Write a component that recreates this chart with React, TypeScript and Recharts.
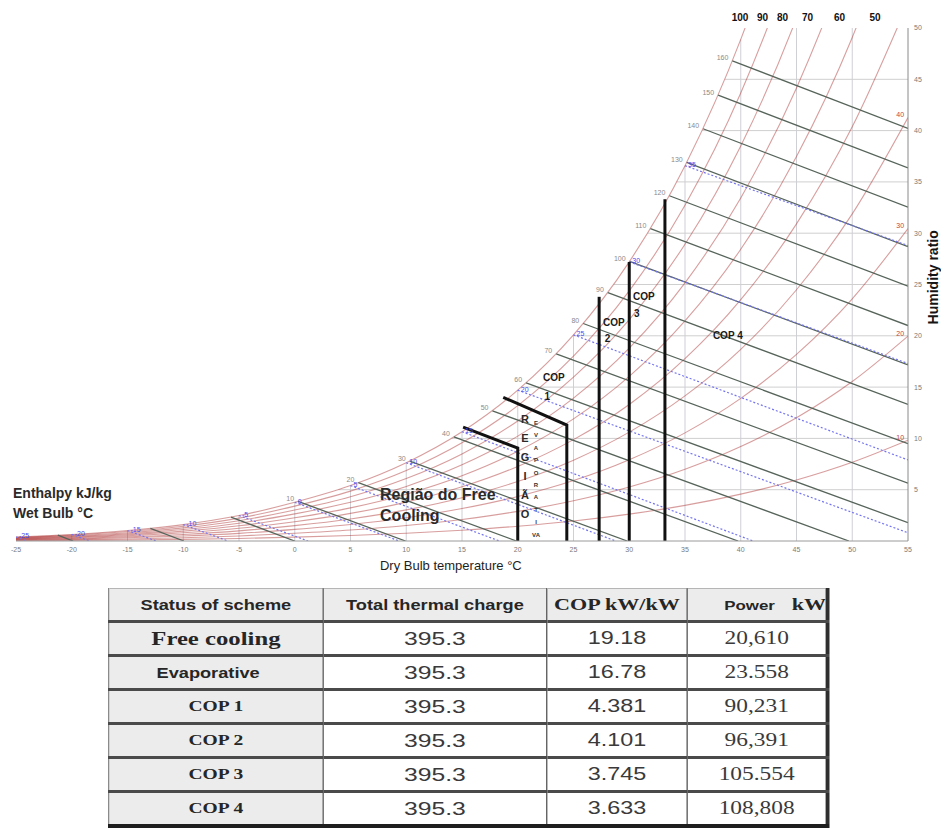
import React from 'react';
import { ComposedChart, Line, Scatter, XAxis, YAxis } from 'recharts';

// dry bulb temperature (°C) and humidity ratio (g/kg) ticks
const dryBulbTicks = [-25, -20, -15, -10, -5, 0, 5, 10, 15, 20, 25, 30, 35, 40, 45, 50, 55];
const humidityTicks = [5, 10, 15, 20, 25, 30, 35, 40, 45, 50];

// humidity ratio along each relative humidity curve, one value per dryBulbTicks entry
const rh10 = [0.04, 0.06, 0.1, 0.16, 0.25, 0.38, 0.54, 0.75, 1.05, 1.44, 1.95, 2.62, 3.47, 4.57, 5.95, 7.68, 9.83];
const rh20 = [0.08, 0.13, 0.2, 0.32, 0.49, 0.75, 1.07, 1.51, 2.1, 2.89, 3.92, 5.26, 6.99, 9.2, 12.01, 15.54, 19.97];
const rh30 = [0.12, 0.19, 0.31, 0.48, 0.74, 1.13, 1.61, 2.27, 3.16, 4.34, 5.89, 7.92, 10.54, 13.9, 18.19, 23.61, 30.45];
const rh40 = [0.16, 0.25, 0.41, 0.64, 0.99, 1.5, 2.15, 3.03, 4.22, 5.8, 7.88, 10.61, 14.14, 18.68, 24.49, 31.88, 41.27];
const rh50 = [0.19, 0.32, 0.51, 0.8, 1.24, 1.88, 2.69, 3.79, 5.28, 7.26, 9.88, 13.31, 17.77, 23.52, 30.91, 40.37, 52.45];
const rh60 = [0.23, 0.38, 0.61, 0.96, 1.48, 2.26, 3.23, 4.56, 6.35, 8.74, 11.9, 16.04, 21.45, 28.44, 37.47, 49.08, 64.03];
const rh70 = [0.27, 0.44, 0.71, 1.12, 1.73, 2.64, 3.77, 5.32, 7.42, 10.22, 13.93, 18.8, 25.16, 33.44, 44.16, 58.03, 76.0];
const rh80 = [0.31, 0.51, 0.81, 1.28, 1.98, 3.02, 4.32, 6.09, 8.49, 11.7, 15.97, 21.58, 28.93, 38.51, 50.98, 67.21, 88.4];
const rh90 = [0.35, 0.57, 0.92, 1.44, 2.23, 3.4, 4.86, 6.86, 9.57, 13.2, 18.02, 24.38, 32.73, 43.66, 57.95, 76.65, 101.25];
const rh100 = [0.39, 0.64, 1.02, 1.6, 2.48, 3.77, 5.4, 7.63, 10.65, 14.7, 20.09, 27.21, 36.58, 48.89, 65.06, 86.34, 114.6];
const rhCurves = [rh10, rh20, rh30, rh40, rh50, rh60, rh70, rh80, rh90, rh100];

// dry bulb where each horizontal grid line meets the saturation curve
const humiditySatTemp = [3.93, 14.06, 20.32, 24.93, 28.6, 31.65, 34.25, 36.54, 38.57];

// enthalpy lines kJ/kg: start on saturation, end on bottom or right edge
const enthalpyLevels = [-20, -10, 0, 10, 20, 30, 40, 50, 60, 70, 80, 90, 100, 110, 120, 130, 140, 150, 160];
const enthalpySatT = [-21.25, -12.95, -5.72, 0.3, 5.7, 10.31, 14.27, 17.73, 20.75, 23.45, 25.87, 28.08, 30.03, 31.9, 33.6, 35.15, 36.62, 37.97, 39.25];
const enthalpySatW = [0.57, 1.23, 2.33, 3.86, 5.68, 7.79, 10.14, 12.69, 15.41, 18.23, 21.2, 24.2, 27.25, 30.45, 33.65, 36.9, 40.18, 43.45, 46.8];
const enthalpyEndT = [-19.88, -9.94, 0, 9.94, 19.88, 29.82, 39.76, 49.7, 55, 55, 55, 55, 55, 55, 55, 55, 55, 55, 55];
const enthalpyEndW = [0, 0, 0, 0, 0, 0, 0, 0, 1.79, 5.63, 9.48, 13.32, 17.16, 21.0, 24.84, 28.68, 32.53, 36.37, 40.21];

// wet bulb lines °C
const wetBulbLevels = [-25, -20, -15, -10, -5, 0, 5, 10, 15, 20, 25, 30, 35];
const wetBulbSatW = [0.39, 0.64, 1.02, 1.6, 2.48, 3.77, 5.4, 7.63, 10.65, 14.7, 20.09, 27.21, 36.58];
const wetBulbEndT = [-24.0, -18.38, -12.43, -5.99, 1.19, 9.37, 18.36, 28.79, 41.11, 55, 55, 55, 55];
const wetBulbEndW = [0, 0, 0, 0, 0, 0, 0, 0, 0, 0.8, 7.9, 17.3, 28.8];

// operating region boundaries
const freeCoolingT = [15.1, 20, 20];
const freeCoolingW = [11.1, 9.06, 0];
const evaporativeT = [18.7, 24.4, 24.4];
const evaporativeW = [14.0, 11.3, 0];
const copLineT = [27.3, 30, 33.2];
const copLineTopW = [23.8, 27.2, 33.3];

// relative humidity labels (top edge and right edge)
const rhTopLabels = ['100', '90', '80', '70', '60', '50'];
const rhTopT = [39.93, 41.95, 43.74, 45.99, 48.86, 52.04];
const rhSideLabels = ['40', '30', '20', '10'];
const rhSideW = [41.27, 30.45, 19.97, 9.83];

// table
const tableHeaders = ['Status of scheme', 'Total thermal charge', 'COP kW/kW', 'Power', 'kW'];
const schemes = ['Free cooling', 'Evaporative', 'COP 1', 'COP 2', 'COP 3', 'COP 4'];
const thermalCharge = ['395.3', '395.3', '395.3', '395.3', '395.3', '395.3'];
const copValues = ['19.18', '16.78', '4.381', '4.101', '3.745', '3.633'];
const powerValues = ['20,610', '23.558', '90,231', '96,391', '105.554', '108,808'];

const sans = '"Liberation Sans", Arial, sans-serif';
const serif = '"Liberation Serif", "Times New Roman", serif';

const pts = (ts: number[], ws: number[]) => ts.map((t, i) => ({ t, w: ws[i] }));

const rhLines = rhCurves.map((ws) => pts(dryBulbTicks, ws));
const verticalGrid = dryBulbTicks.slice(1, -1).map((t, i) => pts([t, t], [0, rh100[i + 1]]));
const horizontalGrid = humiditySatTemp.map((t, i) => pts([t, 55], [humidityTicks[i], humidityTicks[i]]));
const enthalpyLines = enthalpyLevels.map((_, i) =>
  pts([enthalpySatT[i], enthalpyEndT[i]], [enthalpySatW[i], enthalpyEndW[i]]),
);
const wetBulbLines = wetBulbLevels.map((tw, i) => pts([tw, wetBulbEndT[i]], [wetBulbSatW[i], wetBulbEndW[i]]));
const boundaryLines = [
  pts(freeCoolingT, freeCoolingW),
  pts(evaporativeT, evaporativeW),
  ...copLineT.map((t, i) => pts([t, t], [0, copLineTopW[i]])),
];

const enthalpyNotes = enthalpyLevels
  .map((h, i) => ({ t: enthalpySatT[i], w: enthalpySatW[i], text: String(h) }))
  .filter((_, i) => enthalpyLevels[i] > 0);
const wetBulbNotes = wetBulbLevels.map((tw, i) => ({ t: tw, w: wetBulbSatW[i], text: String(tw) }));
const topNotes = rhTopLabels.map((text, i) => ({ t: rhTopT[i], w: 50, text }));
const sideNotes = rhSideLabels.map((text, i) => ({ t: 54.3, w: rhSideW[i], text }));

const bigNotes = [
  { t: -25, w: 4.68, text: 'Enthalpy kJ/kg' },
  { t: -25, w: 2.73, text: 'Wet Bulb °C' },
];
const regionNotes = [
  { t: 7.65, w: 4.58, text: 'Região do Free' },
  { t: 7.65, w: 2.44, text: 'Cooling' },
];
const copNotes = [
  { t: 22.26, w: 15.9, text: 'COP' },
  { t: 22.4, w: 14.1, text: '1' },
  { t: 27.65, w: 21.3, text: 'COP' },
  { t: 27.8, w: 19.7, text: '2' },
  { t: 30.34, w: 23.8, text: 'COP' },
  { t: 30.43, w: 22.2, text: '3' },
  { t: 37.5, w: 20.0, text: 'COP 4' },
];
const axisNotes = [{ t: 14.0, w: 0, text: 'Dry Bulb temperature °C' }];
const sideAxisNotes = [{ t: 55, w: 25.7, text: 'Humidity ratio' }];
const stackNotes = [{ t: 20.65, w: 11.9, text: 'R E G I Ã O' }];
const smallStackNotes = [{ t: 21.64, w: 11.7, text: 'E V A P O R A T I VA' }];

const textShape = (style: any) => (p: any) => (
  <text x={p.cx} y={p.cy} dominantBaseline="central" {...style}>
    {p.payload.text}
  </text>
);

const stackShape = (step: number, style: any) => (p: any) => (
  <text x={p.cx} y={p.cy} textAnchor="middle" {...style}>
    {p.payload.text.split(' ').map((ch: string, i: number) => (
      <tspan key={i} x={p.cx} dy={i === 0 ? 4 : step}>
        {ch}
      </tspan>
    ))}
  </text>
);

const rotatedShape = (p: any) => (
  <text
    x={p.cx + 25}
    y={p.cy}
    transform={`rotate(-90 ${p.cx + 25} ${p.cy})`}
    textAnchor="middle"
    dominantBaseline="central"
    fontFamily={sans}
    fontSize={14}
    fontWeight="bold"
    fill="#151515"
  >
    {p.payload.text}
  </text>
);

const tickStyle = { fontSize: 7, fill: '#7a7a7a', fontFamily: sans };

const seriesLine = (key: string, data: any[], stroke: string, width: number, extra: any = {}) => (
  <Line
    key={key}
    data={data}
    dataKey="w"
    type="linear"
    stroke={stroke}
    strokeWidth={width}
    dot={false}
    activeDot={false}
    isAnimationActive={false}
    {...extra}
  />
);

const note = (key: string, data: any[], shape: any) => (
  <Scatter
    key={key}
    xAxisId="ann"
    yAxisId="ann"
    data={data}
    dataKey="w"
    shape={shape}
    isAnimationActive={false}
  />
);

const PsychroChart = () => (
  <ComposedChart width={933} height={572} margin={{ top: 20, right: 13, bottom: 9, left: 8 }}>
    <XAxis
      dataKey="t"
      type="number"
      domain={[-25, 55]}
      ticks={dryBulbTicks}
      interval={0}
      allowDataOverflow
      height={30}
      tick={tickStyle}
      tickLine={false}
      tickSize={3}
      tickMargin={3}
      axisLine={{ stroke: '#9a9a9a' }}
    />
    <YAxis
      type="number"
      orientation="right"
      domain={[0, 50]}
      ticks={humidityTicks}
      interval={0}
      allowDataOverflow
      width={20}
      tick={tickStyle}
      tickLine={false}
      tickSize={3}
      tickMargin={3}
      axisLine={{ stroke: '#8a8a8a' }}
    />
    <XAxis xAxisId="ann" dataKey="t" type="number" domain={[-25, 55]} hide />
    <YAxis yAxisId="ann" dataKey="w" type="number" orientation="right" domain={[0, 50]} hide />

    {verticalGrid.map((d, i) => seriesLine(`vg${i}`, d, '#cfcfd6', 1))}
    {horizontalGrid.map((d, i) => seriesLine(`hg${i}`, d, '#cfcfcf', 1))}
    {rhLines.map((d, i) =>
      seriesLine(`rh${i}`, d, '#a82828', 1.1, { type: 'monotone', strokeOpacity: 0.45 }),
    )}
    {enthalpyLines.map((d, i) => seriesLine(`h${i}`, d, '#56645a', 1.3))}
    {wetBulbLines.map((d, i) =>
      seriesLine(`wb${i}`, d, '#7474f0', 1.2, { strokeDasharray: '2 2' }),
    )}
    {boundaryLines.map((d, i) => seriesLine(`b${i}`, d, '#111111', 3))}

    {note('enthalpyNotes', enthalpyNotes, textShape({ fontSize: 7, fill: '#8a8a8a', fontFamily: sans, textAnchor: 'end', dx: -4, dy: -3 }))}
    {note('wetBulbNotes', wetBulbNotes, textShape({ fontSize: 7, fill: '#4a4af0', fontFamily: sans, textAnchor: 'start', dx: 3, dy: -1 }))}
    {note('topNotes', topNotes, textShape({ fontSize: 10, fill: '#111', fontWeight: 'bold', fontFamily: sans, textAnchor: 'middle', dy: -10.5 }))}
    {note('sideNotes', sideNotes, textShape({ fontSize: 7, fill: '#c04848', fontFamily: sans, textAnchor: 'middle', dy: -3 }))}
    {note('bigNotes', bigNotes, textShape({ fontSize: 14, fill: '#2a2a2a', fontWeight: 'bold', fontFamily: sans, dx: -3 }))}
    {note('regionNotes', regionNotes, textShape({ fontSize: 16, fill: '#2a2a2a', fontWeight: 'bold', fontFamily: sans }))}
    {note('copNotes', copNotes, textShape({ fontSize: 10, fill: '#1a1a1a', fontWeight: 'bold', fontFamily: sans }))}
    {note('axisNotes', axisNotes, textShape({ fontSize: 13, fill: '#1e1e1e', fontFamily: sans, textAnchor: 'middle', dy: 24 }))}
    {note('sideAxisNotes', sideAxisNotes, rotatedShape)}
    {note('stackNotes', stackNotes, stackShape(19, { fontSize: 11, fill: '#2a2a2a', fontWeight: 'bold', fontFamily: sans }))}
    {note('smallStackNotes', smallStackNotes, stackShape(12.4, { fontSize: 6, fill: '#333', fontWeight: 'bold', fontFamily: sans }))}
  </ComposedChart>
);

const colWidths = [164, 171, 107, 106];

const SchemeTable = () => {
  const cell = (i: number, isHead: boolean): React.CSSProperties => ({
    width: colWidths[i],
    height: 31,
    padding: 0,
    textAlign: 'center',
    verticalAlign: 'middle',
    whiteSpace: 'nowrap',
    overflow: 'hidden',
    background: isHead || i === 0 ? '#ececec' : '#ffffff',
    borderLeft: i === 0 ? '1px solid #8a8a8a' : '1px solid #555',
    borderBottom: '3px solid #4a4a4a',
    color: '#262626',
  });
  const rowLabelStyle = (r: number): React.CSSProperties =>
    r === 1
      ? { fontFamily: sans, fontWeight: 'bold', fontSize: 14, paddingRight: 12 }
      : r === 0
        ? { fontFamily: serif, fontWeight: 'bold', fontSize: 19 }
        : { fontFamily: serif, fontWeight: 'bold', fontSize: 15 };
  return (
    <div
      style={{
        position: 'absolute',
        left: 108,
        top: 588,
        transform: 'scaleX(1.3)',
        transformOrigin: 'left top',
      }}
    >
      <table
        style={{
          borderCollapse: 'collapse',
          tableLayout: 'fixed',
          width: colWidths.reduce((a, b) => a + b, 0),
          borderTop: '1px solid #b5b5b5',
          borderRight: '3px solid #2e2e2e',
          borderBottom: '4px solid #1e1e1e',
        }}
      >
        <tbody>
          <tr>
            <td style={{ ...cell(0, true), fontFamily: sans, fontWeight: 'bold', fontSize: 14 }}>{tableHeaders[0]}</td>
            <td style={{ ...cell(1, true), fontFamily: sans, fontWeight: 'bold', fontSize: 14 }}>{tableHeaders[1]}</td>
            <td style={{ ...cell(2, true), fontFamily: serif, fontWeight: 'bold', fontSize: 17 }}>{tableHeaders[2]}</td>
            <td style={{ ...cell(3, true), textAlign: 'left' }}>
              <span style={{ fontFamily: sans, fontWeight: 'bold', fontSize: 13, marginLeft: 28 }}>{tableHeaders[3]}</span>
              <span style={{ fontFamily: serif, fontWeight: 'bold', fontSize: 17, marginLeft: 13 }}>{tableHeaders[4]}</span>
            </td>
          </tr>
          {schemes.map((s, r) => (
            <tr key={s}>
              <td style={{ ...cell(0, false), ...rowLabelStyle(r) }}>{s}</td>
              <td style={{ ...cell(1, false), fontFamily: sans, fontSize: 19, color: '#3a3a3a' }}>{thermalCharge[r]}</td>
              <td style={{ ...cell(2, false), fontFamily: sans, fontSize: 18, color: '#3a3a3a' }}>{copValues[r]}</td>
              <td style={{ ...cell(3, false), fontFamily: serif, fontSize: 18, color: '#3a3a3a' }}>{powerValues[r]}</td>
            </tr>
          ))}
        </tbody>
      </table>
    </div>
  );
};

export default function App() {
  return (
    <div style={{ position: 'relative', width: 941, height: 832, overflow: 'hidden' }}>
      <style>{'body { margin: 0; }'}</style>
      <div style={{ position: 'absolute', left: 8, top: 8 }}>
        <PsychroChart />
      </div>
      <SchemeTable />
    </div>
  );
}
